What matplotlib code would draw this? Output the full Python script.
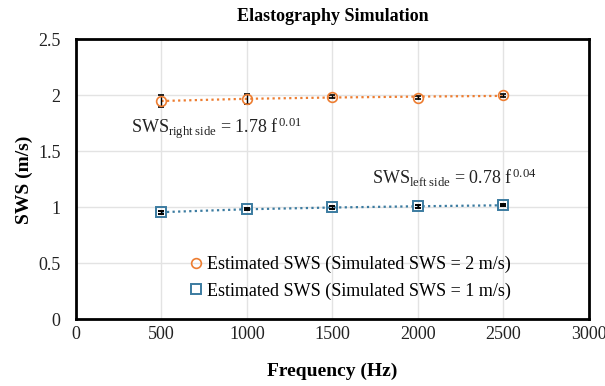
import matplotlib
matplotlib.use('Agg')
import matplotlib.pyplot as plt
import numpy as np

plt.rcParams['font.family'] = ['Liberation Serif', 'DejaVu Serif']
plt.rcParams['mathtext.fontset'] = 'custom'
plt.rcParams['mathtext.rm'] = 'Liberation Serif'
plt.rcParams['mathtext.it'] = 'Liberation Serif:italic'

# frequencies and estimated shear wave speed
freq = [500, 1000, 1500, 2000, 2500]
sws_2ms = [1.95, 1.97, 1.99, 1.98, 2.00]
err_2ms = [0.05, 0.045, 0.015, 0.015, 0.012]
sws_1ms = [0.957, 0.987, 1.00, 1.009, 1.02]
err_1ms = [0.012, 0.01, 0.01, 0.01, 0.01]

orange = '#ED7D31'
blue = '#3B7BA0'

fig = plt.figure(figsize=(6.05, 3.86), dpi=100)
ax = fig.add_axes([0.1256, 0.1723, 0.8474, 0.7254])

f = np.array(freq, dtype=float)

# power trendlines
for y, c in [(sws_2ms, orange), (sws_1ms, blue)]:
    b, loga = np.polyfit(np.log(f), np.log(y), 1)
    ax.plot(f, np.exp(loga) * f ** b, color=c, linestyle=(0, (1, 1.5)), lw=1.6, zorder=2)

ax.errorbar(freq, sws_2ms, yerr=err_2ms, fmt='o', mfc='none', mec=orange, ms=7, mew=1.2,
            ecolor='black', elinewidth=1, capsize=2.5, zorder=3,
            label='Estimated SWS (Simulated SWS = 2 m/s)')
ax.errorbar(freq, sws_1ms, yerr=err_1ms, fmt='s', mfc='none', mec=blue, ms=7, mew=1.4,
            ecolor='black', elinewidth=1, capsize=2.5, zorder=3,
            label='Estimated SWS (Simulated SWS = 1 m/s)')

ax.set_xlim(0, 3000)
ax.set_ylim(0, 2.5)
ax.set_xticks(range(0, 3001, 500))
ax.set_yticks([0, 0.5, 1, 1.5, 2, 2.5])
ax.set_yticklabels(['0', '0.5', '1', '1.5', '2', '2.5'])
ax.tick_params(length=0, labelsize=13, colors='#222222')
ax.tick_params(axis='x', pad=5)
ax.tick_params(axis='y', pad=11)
ax.grid(True, color='#e3e3e3', lw=1)
ax.set_axisbelow(True)
for s in ax.spines.values():
    s.set_linewidth(2)
    s.set_color('black')

ax.set_title('Elastography Simulation', fontsize=13, fontweight='bold', pad=13)
ax.set_xlabel('Frequency (Hz)', fontsize=14, fontweight='bold', labelpad=14)
ax.set_ylabel('SWS (m/s)', fontsize=14, fontweight='bold', labelpad=4)

ax.text(322, 1.71, r'SWS$_{\rm right\ side}$ = 1.78 f$^{\,0.01}$', fontsize=13, va='center', color='#222222')
ax.text(1732, 1.26, r'SWS$_{\rm left\ side}$ = 0.78 f$^{\,0.04}$', fontsize=13, va='center', color='#222222')

handles, labels = ax.get_legend_handles_labels()
handles = [h[0] for h in handles]
ax.legend(handles, labels, loc='lower left', bbox_to_anchor=(0.21, 0.045), frameon=False,
          fontsize=13, handlelength=0.6, handletextpad=0.3, labelspacing=0.5, borderaxespad=0)

fig.savefig('out.png', dpi=100)
